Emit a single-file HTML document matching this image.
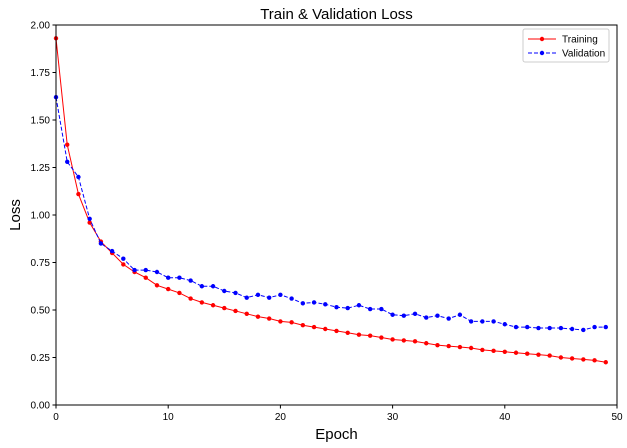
<!DOCTYPE html>
<html><head><meta charset="utf-8"><style>
body{margin:0;background:#fff;}
svg{display:block;font-family:"Liberation Sans","DejaVu Sans",sans-serif;}
</style></head><body>
<svg id="chart" width="627" height="448"></svg>
<script>
const epochs=[...Array(50).keys()];
const trainLoss=[1.93,1.37,1.11,0.96,0.86,0.80,0.74,0.70,0.67,0.63,0.61,0.59,0.56,0.54,0.525,0.51,0.495,0.48,0.465,0.455,0.44,0.435,0.42,0.41,0.40,0.39,0.38,0.37,0.365,0.355,0.345,0.34,0.335,0.325,0.315,0.31,0.305,0.30,0.29,0.285,0.28,0.275,0.27,0.265,0.26,0.25,0.245,0.24,0.235,0.225];
const valLoss=[1.62,1.28,1.20,0.98,0.85,0.81,0.77,0.71,0.71,0.70,0.67,0.67,0.655,0.625,0.625,0.60,0.59,0.565,0.58,0.565,0.58,0.56,0.535,0.54,0.53,0.515,0.51,0.525,0.505,0.505,0.475,0.47,0.48,0.46,0.47,0.455,0.475,0.44,0.44,0.44,0.425,0.41,0.41,0.405,0.405,0.405,0.40,0.395,0.41,0.41];
const xTicks=[0,10,20,30,40,50];
const yTicks=[0,0.25,0.5,0.75,1.0,1.25,1.5,1.75,2.0];
const L=56,R=617,T=25,B=405;
const X=v=>L+(v-0)/50*(R-L);
const Y=v=>B-v/2*(B-T);
const svg=document.getElementById('chart');
const NS='http://www.w3.org/2000/svg';
function mk(tag,attrs,parent){const e=document.createElementNS(NS,tag);for(const k in attrs)e.setAttribute(k,attrs[k]);(parent||svg).appendChild(e);return e;}
function txt(s,attrs){const e=mk('text',attrs);e.textContent=s;return e;}
// series
function series(data,color,dash,name){
  const g=mk('g',{});
  
  
  const pts=data.map((v,i)=>X(epochs[i])+','+Y(v)).join(' ');
  const pl=mk('polyline',{points:pts,fill:'none',stroke:color,'stroke-width':1,'stroke-dasharray':dash||'none'},g);
  
  
  data.forEach((v,i)=>{
    const c=mk('circle',{cx:X(epochs[i]),cy:Y(v),r:2.2,fill:color},g);
    
    
  });
}
series(trainLoss,'#ff0000',null,'training-series');
series(valLoss,'#0000ff','4 2','validation-series');
// axes frame
const fr=mk('rect',{x:L,y:T,width:R-L,height:B-T,fill:'none',stroke:'#000','stroke-width':1});


xTicks.forEach(t=>{
  mk('line',{x1:X(t),x2:X(t),y1:B,y2:B+3.5,stroke:'#000'});
  const e=txt(String(t),{x:X(t),y:B+15,'font-size':10,'text-anchor':'middle'});
  
  
});
yTicks.forEach(t=>{
  mk('line',{x1:L-3.5,x2:L,y1:Y(t),y2:Y(t),stroke:'#000'});
  const e=txt(t.toFixed(2),{x:L-6,y:Y(t)+3.5,'font-size':10,'text-anchor':'end'});
  
  
});
let e=txt('Train & Validation Loss',{x:(L+R)/2,y:19,'font-size':15,'text-anchor':'middle'});


e=txt('Epoch',{x:(L+R)/2,y:439,'font-size':15,'text-anchor':'middle'});


e=txt('Loss',{x:20,y:(T+B)/2,'font-size':15,'text-anchor':'middle',transform:`rotate(-90 20 ${(T+B)/2})`});


// legend
const lg=mk('g',{});


mk('rect',{x:523,y:29,width:86,height:33,rx:2,fill:'#fff',stroke:'#ccc'},lg);
mk('line',{x1:528,x2:556,y1:39,y2:39,stroke:'#ff0000'},lg);
mk('circle',{cx:542,cy:39,r:2.2,fill:'#ff0000'},lg);
let t1=mk('text',{x:562,y:42.5,'font-size':10},lg);t1.textContent='Training';


mk('line',{x1:528,x2:556,y1:53,y2:53,stroke:'#0000ff','stroke-dasharray':'4 2'},lg);
mk('circle',{cx:542,cy:53,r:2.2,fill:'#0000ff'},lg);
let t2=mk('text',{x:562,y:56.5,'font-size':10},lg);t2.textContent='Validation';


</script>
</body></html>
